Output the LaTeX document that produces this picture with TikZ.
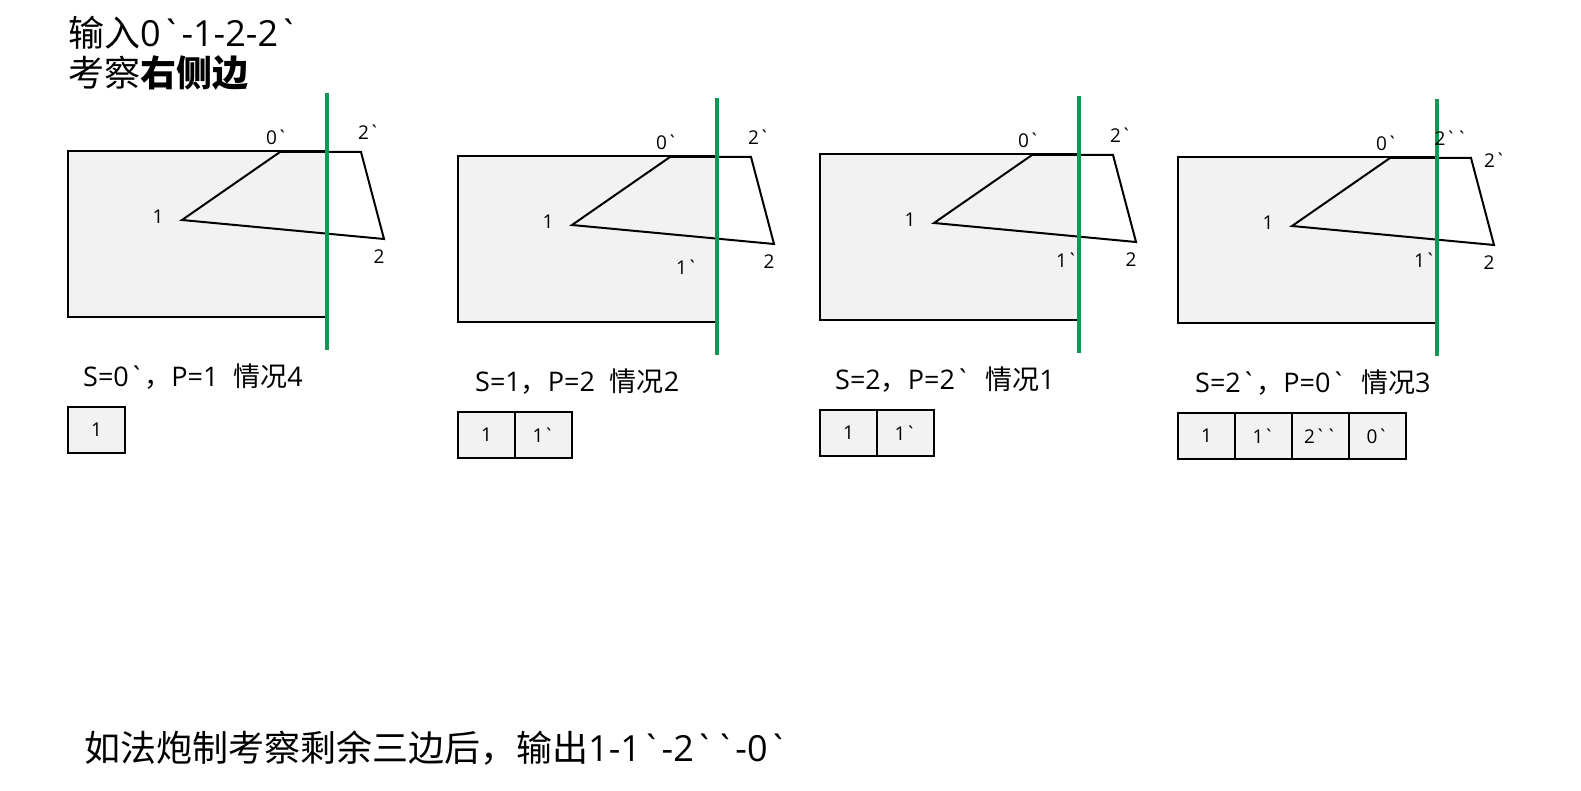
\documentclass[tikz,border=0pt]{standalone}
\usepackage{fontspec}
\setmainfont{Open Sans}[Ligatures=TeXOff]
\newfontfamily\cjk{Noto Sans CJK SC}[Ligatures=TeXOff]
\usetikzlibrary{positioning}
\definecolor{cutgreen}{RGB}{22,150,82}
\definecolor{paper}{RGB}{242,242,242}

\begin{document}
\begin{tikzpicture}[x=1pt, y=-1pt,
    edge/.style={line width=2pt, line join=miter},
    cutline/.style={cutgreen, line width=4pt},
    vlabel/.style={font=\fontsize{19}{19}\selectfont, inner sep=0pt},
    caption/.style={font=\fontsize{27}{27}\selectfont, anchor=west, inner sep=0pt},
    heading/.style={font=\fontsize{36}{36}\selectfont, anchor=west, inner sep=0pt},
    cell/.style={draw, line width=1.6pt, fill=paper, minimum width=57pt, minimum height=46pt,
      inner sep=0pt, outer sep=0pt, font=\fontsize{19}{19}\selectfont}]
  \useasboundingbox (0,0) rectangle (1581,791);
  \fill[white] (0,0) rectangle (1581,791);

  % heading
  \node[heading] (input) at (68,33) {{\cjk 输入}0`-1-2-2`};
  \node[heading] (focus) at (68,73) {{\cjk 考察\bfseries 右侧边}};

  % step 1
  \begin{scope}[shift={(68,151)}]
    \filldraw[edge, fill=paper] (0,0) rectangle (259,166);
    \draw[edge] (212,1) -- (114,69) -- (316,88) -- (293,1) -- cycle;
    \draw[cutline] (259,-58) -- (259,199);
    \node[vlabel] (s1v0) at (209,-14) {0`};
    \node[vlabel] (s1v2p) at (301,-19) {2`};
    \node[vlabel] (s1v1) at (90,66) {1};
    \node[vlabel] (s1v2) at (311,106) {2};
    \node[caption] (cap1) at (15,226) {S=0`{\cjk ，}P=1\hspace{0.55em}{\cjk 情况}4};
    \node[cell, anchor=north west] (out1a) at (0,256) {1};
  \end{scope}

  % step 2
  \begin{scope}[shift={(458,156)}]
    \filldraw[edge, fill=paper] (0,0) rectangle (259,166);
    \draw[edge] (212,1) -- (114,69) -- (316,88) -- (293,1) -- cycle;
    \draw[cutline] (259,-58) -- (259,199);
    \node[vlabel] (s2v0) at (209,-14) {0`};
    \node[vlabel] (s2v2p) at (301,-19) {2`};
    \node[vlabel] (s2v1) at (90,66) {1};
    \node[vlabel] (s2v1p) at (229,111) {1`};
    \node[vlabel] (s2v2) at (311,106) {2};
    \node[caption] (cap2) at (17,226) {S=1{\cjk ，}P=2\hspace{0.55em}{\cjk 情况}2};
    \node[cell, anchor=north west] (out2a) at (0,256) {1};
    \node[cell, right=0pt of out2a] (out2b) {1`};
  \end{scope}

  % step 3
  \begin{scope}[shift={(820,154)}]
    \filldraw[edge, fill=paper] (0,0) rectangle (259,166);
    \draw[edge] (212,1) -- (114,69) -- (316,88) -- (293,1) -- cycle;
    \draw[cutline] (259,-58) -- (259,199);
    \node[vlabel] (s3v0) at (209,-14) {0`};
    \node[vlabel] (s3v2p) at (301,-19) {2`};
    \node[vlabel] (s3v1) at (90,66) {1};
    \node[vlabel] (s3v1p) at (247,106) {1`};
    \node[vlabel] (s3v2) at (311,106) {2};
    \node[caption] (cap3) at (15,226) {S=2{\cjk ，}P=2`\hspace{0.55em}{\cjk 情况}1};
    \node[cell, anchor=north west] (out3a) at (0,256) {1};
    \node[cell, right=0pt of out3a] (out3b) {1`};
  \end{scope}

  % step 4
  \begin{scope}[shift={(1178,157)}]
    \filldraw[edge, fill=paper] (0,0) rectangle (259,166);
    \draw[edge] (212,1) -- (114,69) -- (316,88) -- (293,1) -- cycle;
    \draw[cutline] (259,-58) -- (259,199);
    \node[vlabel] (s4v0) at (209,-14) {0`};
    \node[vlabel] (s4v2pp) at (273,-19) {2``};
    \node[vlabel] (s4v2p) at (317,3) {2`};
    \node[vlabel] (s4v1) at (90,66) {1};
    \node[vlabel] (s4v1p) at (247,103) {1`};
    \node[vlabel] (s4v2) at (311,106) {2};
    \node[caption] (cap4) at (17,226) {S=2`{\cjk ，}P=0`\hspace{0.55em}{\cjk 情况}3};
    \node[cell, anchor=north west] (out4a) at (0,256) {1};
    \node[cell, right=0pt of out4a] (out4b) {1`};
    \node[cell, right=0pt of out4b] (out4c) {2``};
    \node[cell, right=0pt of out4c] (out4d) {0`};
  \end{scope}

  % result
  \node[heading] (result) at (84,748) {{\cjk 如法炮制考察剩余三边后，输出}1-1`-2``-0`};
\end{tikzpicture}
\end{document}
